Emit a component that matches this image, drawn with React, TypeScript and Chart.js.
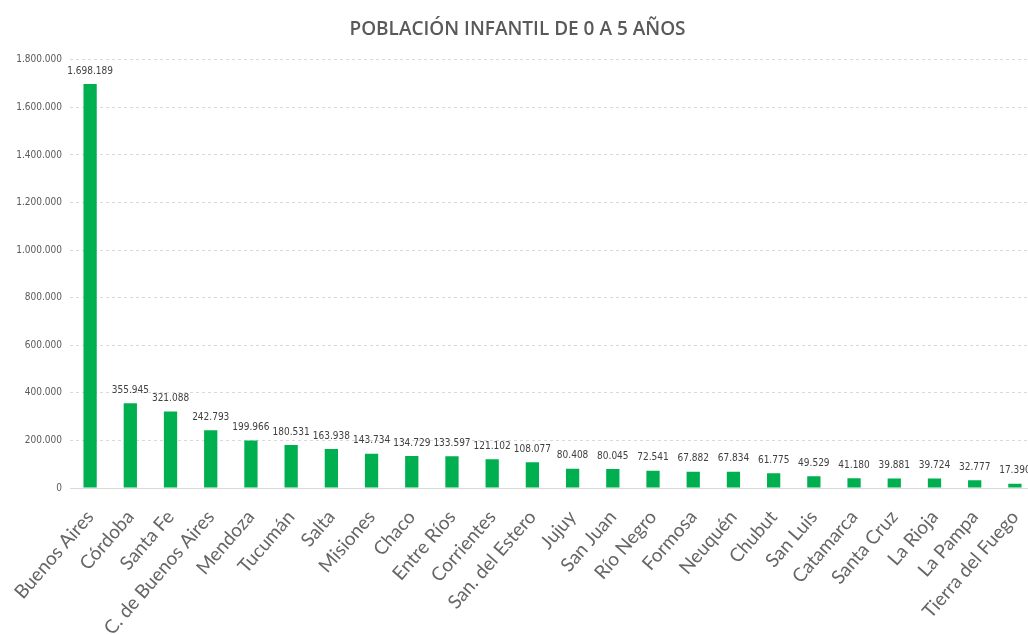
import React, { useEffect, useRef } from "react";
import { Chart, registerables } from "chart.js";

Chart.register(...registerables);

const provincias = [
  "Buenos Aires", "Córdoba", "Santa Fe", "C. de Buenos Aires", "Mendoza", "Tucumán",
  "Salta", "Misiones", "Chaco", "Entre Ríos", "Corrientes", "San. del Estero",
  "Jujuy", "San Juan", "Río Negro", "Formosa", "Neuquén", "Chubut", "San Luis",
  "Catamarca", "Santa Cruz", "La Rioja", "La Pampa", "Tierra del Fuego",
];

const poblacion = [
  1698189, 355945, 321088, 242793, 199966, 180531, 163938, 143734, 134729, 133597,
  121102, 108077, 80408, 80045, 72541, 67882, 67834, 61775, 49529, 41180, 39881,
  39724, 32777, 17390,
];

const titulo = "POBLACIÓN INFANTIL DE 0 A 5 AÑOS";

const fmt = (v: number) =>
  Math.round(v).toString().replace(/\B(?=(\d{3})+(?!\d))/g, ".");

const narrow = "'Liberation Sans Narrow', 'DejaVu Sans Condensed', sans-serif";

const dataLabels = {
  id: "dataLabels",
  afterDatasetsDraw(chart: any) {
    const ctx = chart.ctx;
    const meta = chart.getDatasetMeta(0);
    ctx.save();
    ctx.font = `10px ${narrow}`;
    ctx.fillStyle = "#404040";
    ctx.textAlign = "center";
    ctx.textBaseline = "bottom";
    meta.data.forEach((bar: any, i: number) => {
      ctx.fillText(fmt(poblacion[i]), bar.x, bar.y - 8);
    });
    ctx.restore();
  },
};

export default function App() {
  const ref = useRef<HTMLCanvasElement>(null);
  useEffect(() => {
    document.body.style.margin = "0";
    const chart = new Chart(ref.current!, {
      type: "bar",
      data: {
        labels: provincias,
        datasets: [
          {
            data: poblacion,
            backgroundColor: "#00b050",
            barPercentage: 0.66,
            categoryPercentage: 0.5,
          },
        ],
      },
      options: {
        animation: false,
        responsive: false,
        layout: { padding: 0 },
        plugins: {
          legend: { display: false },
          tooltip: { enabled: false },
          title: {
            display: true,
            text: titulo,
            color: "#595959",
            font: { family: "'Open Sans', sans-serif", size: 19, weight: "600" },
            padding: { top: 18, bottom: 19 },
          },
        },
        scales: {
          x: {
            grid: { display: false },
            border: { display: true, color: "#d9d9d9" },
            ticks: {
              color: "#666666",
              font: { family: "Lato, sans-serif", size: 19 },
              maxRotation: 49,
              minRotation: 49,
              autoSkip: false,
              padding: 10,
            },
            afterFit(scale: any) {
              scale.height = 147;
              scale.paddingLeft = 0;
              scale.paddingRight = 0;
            },
          },
          y: {
            min: 0,
            max: 1800000,
            grid: { color: "#d9d9d9", drawTicks: false },
            border: { display: false, dash: [3, 3] },
            ticks: {
              stepSize: 200000,
              color: "#595959",
              font: { family: narrow, size: 10 },
              padding: 8,
              callback: (v: any) => fmt(Number(v)),
            },
            afterFit(scale: any) {
              scale.width = 70;
            },
          },
        },
      },
      plugins: [dataLabels],
    });
    return () => chart.destroy();
  }, []);
  return (
    <div style={{ width: 1028, height: 635, overflow: "hidden" }}>
      <canvas ref={ref} width={1035} height={635} style={{ display: "block" }} />
    </div>
  );
}
